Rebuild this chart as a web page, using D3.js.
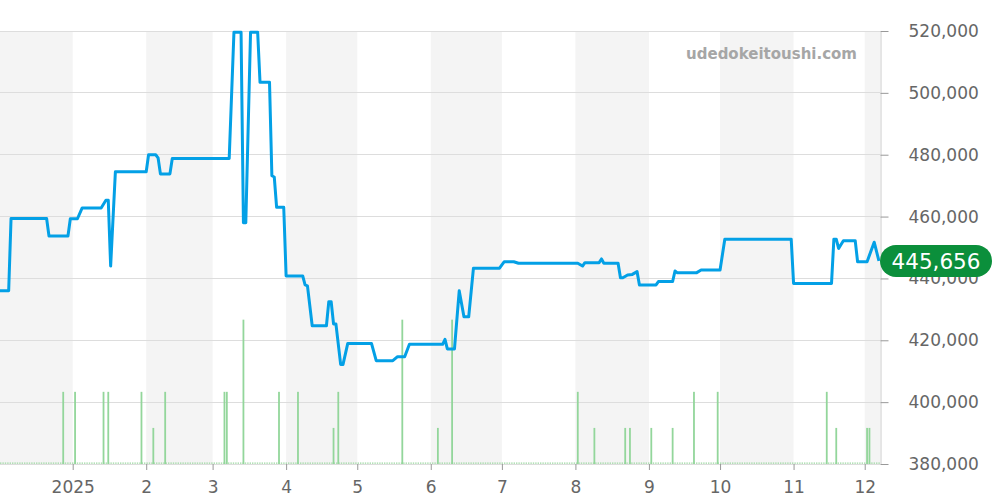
<!DOCTYPE html>
<html>
<head>
<meta charset="utf-8">
<script src="https://cdn.jsdelivr.net/npm/d3@7/dist/d3.min.js"></script>
<style>
  html, body { margin: 0; padding: 0; background: #fff; }
  svg { display: block; font-family: "DejaVu Sans", sans-serif; }
</style>
</head>
<body>
<svg id="chart" width="1000" height="500"></svg>
<script>
// ---------- data ----------
const priceDates = [
  "2024-12-01","2024-12-05","2024-12-06","2024-12-21","2024-12-22","2024-12-30","2024-12-31",
  "2025-01-03","2025-01-05","2025-01-13","2025-01-15","2025-01-16","2025-01-17","2025-01-19",
  "2025-02-01","2025-02-02","2025-02-05","2025-02-06","2025-02-07","2025-02-11","2025-02-12",
  "2025-03-08","2025-03-10","2025-03-13","2025-03-14","2025-03-15","2025-03-17","2025-03-20",
  "2025-03-21","2025-03-25","2025-03-26","2025-03-27","2025-03-28","2025-03-31",
  "2025-04-01","2025-04-08","2025-04-09","2025-04-10","2025-04-12","2025-04-18","2025-04-19",
  "2025-04-20","2025-04-21","2025-04-22","2025-04-24","2025-04-25","2025-04-27",
  "2025-05-07","2025-05-09","2025-05-16","2025-05-18","2025-05-21","2025-05-23",
  "2025-06-06","2025-06-07","2025-06-08","2025-06-11","2025-06-13","2025-06-15","2025-06-17",
  "2025-06-19","2025-06-30","2025-07-02","2025-07-06","2025-07-08",
  "2025-08-02","2025-08-04","2025-08-05","2025-08-11","2025-08-12","2025-08-13","2025-08-19",
  "2025-08-20","2025-08-21","2025-08-23","2025-08-25","2025-08-27","2025-08-28",
  "2025-09-04","2025-09-05","2025-09-11","2025-09-12","2025-09-13","2025-09-21","2025-09-23",
  "2025-10-01","2025-10-03","2025-10-31","2025-11-01","2025-11-17","2025-11-18","2025-11-19",
  "2025-11-20","2025-11-22","2025-11-27","2025-11-28","2025-12-02","2025-12-05","2025-12-07"
];
const priceValues = [
  436000,436000,459400,459400,453700,453700,459300,
  459300,462800,462800,465300,465300,444000,474500,
  474500,480000,480000,479000,473800,473800,478800,
  478800,519600,519600,458000,458000,519600,519600,
  503400,503400,473200,472800,463000,463000,
  440800,440800,437900,437600,424700,424700,432500,
  432500,425300,425300,412200,412200,419000,
  419000,413400,413400,414700,414700,418700,
  418700,420300,417200,417200,436000,427600,427600,
  443300,443300,445400,445400,444900,
  444900,444000,445100,445100,446300,444900,444900,
  440200,440200,441100,441300,442200,437900,
  437900,439000,439000,442400,441800,441800,442700,
  442700,452700,452700,438400,438400,452700,452700,
  449700,452200,452200,445400,445400,451700,445656
];
const volumeDates = [
  "2024-12-28","2025-01-02","2025-01-14","2025-01-16","2025-01-30","2025-02-04","2025-02-09",
  "2025-03-06","2025-03-07","2025-03-14","2025-03-29","2025-04-06","2025-04-21","2025-04-23",
  "2025-05-20","2025-06-04","2025-06-10","2025-08-02","2025-08-09","2025-08-22","2025-08-24",
  "2025-09-02","2025-09-11","2025-09-20","2025-09-30","2025-11-15","2025-11-19","2025-12-02","2025-12-03"
];
const volumeCounts = [
  2,2,2,2,2,1,2,
  2,2,4,2,2,1,2,
  4,1,4,2,1,1,1,
  1,1,2,2,2,1,1,1
];
const yTicks = [380000,400000,420000,440000,460000,480000,500000,520000];
const monthLabels = ["2025","2","3","4","5","6","7","8","9","10","11","12"];
const lastPrice = 445656;
const watermark = "udedokeitoushi.com";

// ---------- layout ----------
const W = 1000, H = 500;
const plotL = 0, plotR = 880, plotT = 31, plotB = 464;
const parse = d3.timeParse("%Y-%m-%d");
const prices = priceDates.map((d, i) => ({ date: parse(d), value: priceValues[i] }));
const volumes = volumeDates.map((d, i) => ({ date: parse(d), count: volumeCounts[i] }));

const x = d3.scaleTime()
  .domain([new Date(2024, 11, 1, 8, 12), new Date(2025, 11, 7, 10, 48)])
  .range([plotL, plotR]);
const y = d3.scaleLinear().domain([380000, 520000]).range([plotB, plotT]);
const yVol = d3.scaleLinear().domain([0, 12]).range([plotB, plotT]);

const svg = d3.select("#chart");

svg.append("defs").append("clipPath").attr("id", "plotclip")
  .append("rect").attr("x", plotL).attr("y", 0).attr("width", plotR - plotL).attr("height", plotB + 2);

// month bands
const months = d3.timeMonth.range(new Date(2024, 11, 1), new Date(2026, 0, 1));
const bands = svg.append("g").attr("clip-path", "url(#plotclip)");
months.forEach((m, i) => {
  if (i % 2 === 0) {
    const next = d3.timeMonth.offset(m, 1);
    bands.append("rect")
      .attr("x", x(m)).attr("y", plotT)
      .attr("width", x(next) - x(m)).attr("height", plotB - plotT)
      .attr("fill", "#f4f4f4");
  }
});

// gridlines
svg.append("g").selectAll("line").data(yTicks).join("line")
  .attr("x1", plotL).attr("x2", plotR)
  .attr("y1", d => y(d)).attr("y2", d => y(d))
  .attr("stroke", "#dddddd").attr("stroke-width", 1)
  .attr("shape-rendering", "crispEdges");

// watermark
svg.append("text")
  .attr("x", 857).attr("y", 58.5)
  .attr("text-anchor", "end")
  .attr("font-size", 15).attr("font-weight", "bold")
  .attr("fill", "#a6a6a6")
  .text(watermark);

// volume baseline (dotted)
svg.append("line")
  .attr("x1", plotL).attr("x2", plotR)
  .attr("y1", plotB - 0.8).attr("y2", plotB - 0.8)
  .attr("stroke", "#9bd8a0").attr("stroke-width", 1.3)
  .attr("stroke-dasharray", "1.4,1");

// volume bars
svg.append("g").attr("clip-path", "url(#plotclip)")
  .selectAll("rect").data(volumes).join("rect")
  .attr("x", d => x(d.date) - 0.9)
  .attr("width", 1.8)
  .attr("y", d => yVol(d.count))
  .attr("height", d => plotB - yVol(d.count))
  .attr("fill", "#93d69b");

// price line
const line = d3.line().x(d => x(d.date)).y(d => y(d.value));
svg.append("path")
  .datum(prices)
  .attr("clip-path", "url(#plotclip)")
  .attr("d", line)
  .attr("fill", "none")
  .attr("stroke", "#03a0e6")
  .attr("stroke-width", 3)
  .attr("stroke-linejoin", "round");

// right axis
const yAxis = d3.axisRight(y).tickValues(yTicks).tickSize(8).tickSizeOuter(0).tickPadding(20)
  .tickFormat(d3.format(","));
const gy = svg.append("g").attr("transform", `translate(${plotR + 0.5},0)`).call(yAxis);
gy.select(".domain").attr("stroke", "#cccccc");
gy.selectAll(".tick line").attr("stroke", "#999999");
gy.selectAll(".tick text").attr("font-size", 17).attr("fill", "#666666")
  .attr("font-family", "DejaVu Sans, sans-serif");

// bottom axis
const monthTicks = d3.timeMonth.range(new Date(2025, 0, 1), new Date(2025, 11, 2));
const xAxis = d3.axisBottom(x).tickValues(monthTicks).tickSize(6).tickSizeOuter(0).tickPadding(11)
  .tickFormat((d, i) => monthLabels[i]);
const gx = svg.append("g").attr("transform", `translate(0,${plotB})`).call(xAxis);
gx.select(".domain").remove();
gx.selectAll(".tick line").attr("stroke", "#999999");
gx.selectAll(".tick text").attr("font-size", 17).attr("fill", "#666666")
  .attr("font-family", "DejaVu Sans, sans-serif");

// last price pill
const ly = y(lastPrice);
const pill = svg.append("g");
pill.append("rect")
  .attr("x", plotR).attr("y", ly - 16)
  .attr("width", 112).attr("height", 32)
  .attr("rx", 16).attr("ry", 16)
  .attr("fill", "#0b8f3b");
pill.append("text")
  .attr("x", plotR + 56).attr("y", ly)
  .attr("dy", "0.36em")
  .attr("text-anchor", "middle")
  .attr("font-size", 21.5)
  .attr("fill", "#ffffff")
  .text(d3.format(",")(lastPrice));
</script>
</body>
</html>
